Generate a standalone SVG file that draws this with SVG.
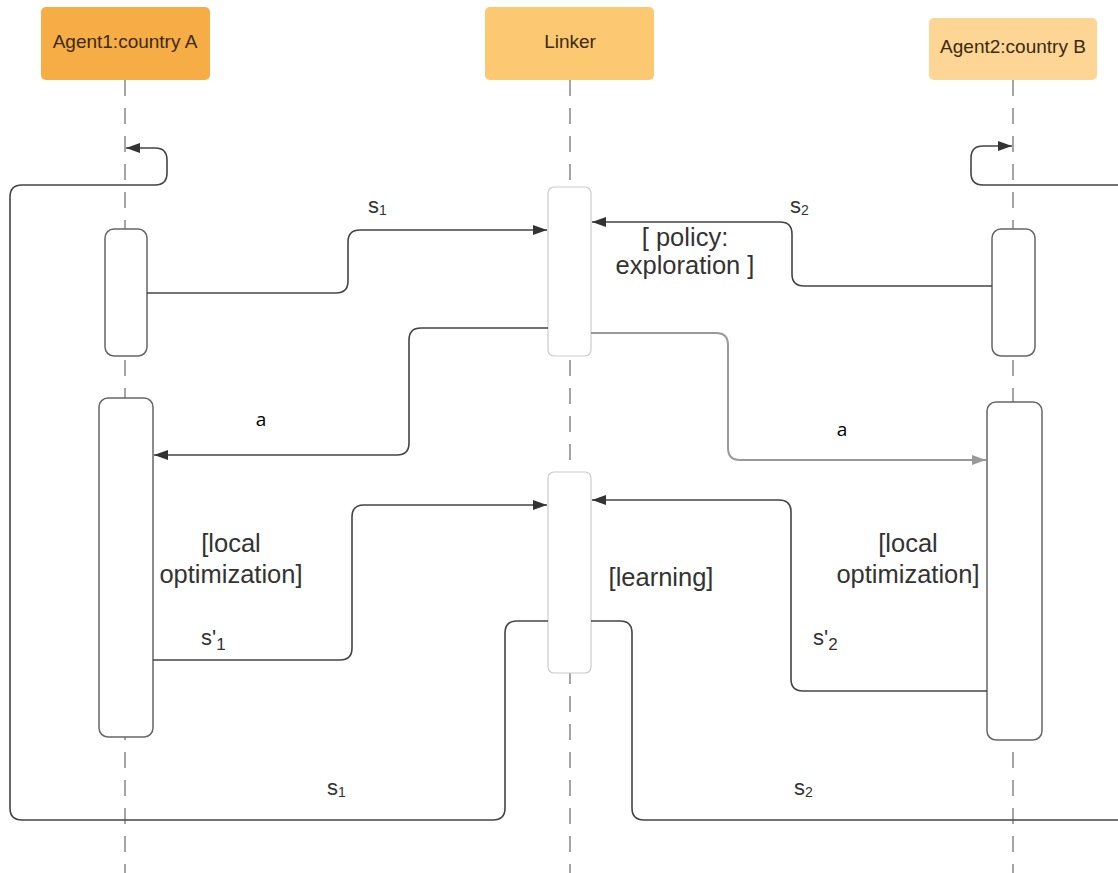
<svg xmlns="http://www.w3.org/2000/svg" width="1118" height="873" viewBox="0 0 1118 873">
<defs>
<marker id="ah" markerWidth="14" markerHeight="10" refX="14" refY="5" orient="auto" markerUnits="userSpaceOnUse">
<path d="M0,0 L14,5 L0,10 z" fill="#333"/>
</marker>
<marker id="ahg" markerWidth="14" markerHeight="10" refX="14" refY="5" orient="auto" markerUnits="userSpaceOnUse">
<path d="M0,0 L14,5 L0,10 z" fill="#999"/>
</marker>
<style>
.hd{font-family:"Liberation Sans",Arial,sans-serif;font-size:19px;fill:#3a2a10;text-anchor:middle}
.life{stroke:#888;stroke-width:1.5;stroke-dasharray:16 12;fill:none}
.act{fill:#fff;stroke:#666;stroke-width:1.5}
.actl{fill:#fff;stroke:#ccc;stroke-width:1.2}
.c{fill:none;stroke:#444;stroke-width:1.6}
.cg{fill:none;stroke:#999;stroke-width:2}
.lb{font-family:"Liberation Sans",Arial,sans-serif;font-size:25.5px;fill:#333;text-anchor:middle}
.sl{font-family:"Liberation Sans",Arial,sans-serif;font-size:22px;fill:#333}
.a{font-family:"Open Sans","Noto Sans",sans-serif;font-size:19px;fill:#000;text-anchor:middle}
</style>
</defs>
<rect width="1118" height="873" fill="#fff"/>
<g id="lifelines">
<line class="life" x1="125" y1="80" x2="125" y2="873"/>
<line class="life" x1="570" y1="80" x2="570" y2="873"/>
<line class="life" x1="1013" y1="80" x2="1013" y2="873"/>
</g>
<g id="agent1">
<rect x="41" y="7" width="169" height="73" rx="5" fill="#F7AD45"/>
<text class="hd" x="125" y="48">Agent1:country A</text>
</g>
<g id="linker">
<rect x="485" y="7" width="169" height="73" rx="5" fill="#FCC872"/>
<text class="hd" x="570" y="48">Linker</text>
</g>
<g id="agent2">
<rect x="929" y="18" width="168" height="62" rx="5" fill="#FDD594"/>
<text class="hd" x="1013" y="53">Agent2:country B</text>
</g>
<g id="activations">
<rect id="act-a1-1" class="act" x="105" y="229" width="42" height="127" rx="9"/>
<rect id="act-a1-2" class="act" x="99" y="398" width="54" height="339" rx="9"/>
<rect id="act-l-1" class="actl" x="548" y="187" width="43" height="169" rx="6"/>
<rect id="act-l-2" class="actl" x="548" y="472" width="43" height="201" rx="6"/>
<rect id="act-a2-1" class="act" x="992" y="229" width="43" height="127" rx="9"/>
<rect id="act-a2-2" class="act" x="987" y="402" width="55" height="338" rx="9"/>
</g>
<g id="connectors">
<path class="c" d="M548,621 H517 Q505,621 505,633 V808 Q505,820 493,820 H22 Q10,820 10,808 V197 Q10,185 22,185 H155 Q167,185 167,173 V160 Q167,148 155,148 H126" marker-end="url(#ah)"/>
<path class="c" d="M591,621 H620 Q632,621 632,633 V808 Q632,820 644,820 H1118"/>
<path class="c" d="M1118,185 H983 Q971,185 971,173 V158 Q971,146 983,146 H1012" marker-end="url(#ah)"/>
<path class="c" d="M147,293 H336 Q348,293 348,281 V242 Q348,230 360,230 H547" marker-end="url(#ah)"/>
<path class="c" d="M992,286 H804 Q792,286 792,274 V234 Q792,222 780,222 H592" marker-end="url(#ah)"/>
<path class="c" d="M548,328 H421 Q409,328 409,340 V443 Q409,455 397,455 H154" marker-end="url(#ah)"/>
<path class="cg" d="M591,333 H716 Q728,333 728,345 V448 Q728,460 740,460 H986" marker-end="url(#ahg)"/>
<path class="c" d="M153,660 H340 Q352,660 352,648 V517 Q352,505 364,505 H547" marker-end="url(#ah)"/>
<path class="c" d="M987,691 H803 Q791,691 791,679 V512 Q791,500 779,500 H592" marker-end="url(#ah)"/>
</g>
<g id="labels">
<text class="sl" x="368" y="213">s<tspan font-size="14" dy="2">1</tspan></text>
<text class="sl" x="790" y="213">s<tspan font-size="14" dy="2">2</tspan></text>
<text class="lb" x="685" y="246">[ policy:</text>
<text class="lb" x="685" y="274">exploration ]</text>
<text class="a" x="261" y="426">a</text>
<text class="a" x="842" y="436">a</text>
<text class="lb" x="231" y="552">[local</text>
<text class="lb" x="231" y="583">optimization]</text>
<text class="lb" x="908" y="552">[local</text>
<text class="lb" x="908" y="583">optimization]</text>
<text class="lb" x="661" y="586">[learning]</text>
<text class="sl" x="201" y="645">s'<tspan font-size="17" dy="5">1</tspan></text>
<text class="sl" x="813" y="645">s'<tspan font-size="17" dy="5">2</tspan></text>
<text class="sl" x="327" y="795">s<tspan font-size="14" dy="2">1</tspan></text>
<text class="sl" x="794" y="795">s<tspan font-size="14" dy="2">2</tspan></text>
</g>
</svg>
